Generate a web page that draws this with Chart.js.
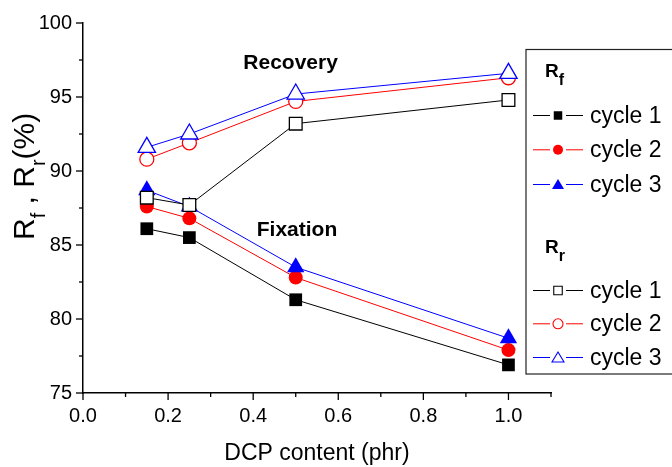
<!DOCTYPE html>
<html>
<head>
<meta charset="utf-8">
<script src="https://cdn.jsdelivr.net/npm/chart.js@4.4.0/dist/chart.umd.min.js"></script>
<style>
  body { margin: 0; background: #fff; }
  #wrap { width: 672px; height: 467px; overflow: hidden; }
</style>
</head>
<body>
<div id="wrap"><canvas id="myChart" width="672" height="467"></canvas></div>
<script>
// data
var dcp = [0.15, 0.25, 0.5, 1.0];
var rfCycle1 = [86.1, 85.5, 81.3, 76.9];
var rfCycle2 = [87.6, 86.8, 82.8, 77.9];
var rfCycle3 = [88.7, 87.6, 83.5, 78.7];
var rrCycle1 = [88.2, 87.7, 93.2, 94.8];
var rrCycle2 = [90.8, 91.9, 94.7, 96.3];
var rrCycle3 = [91.6, 92.5, 95.2, 96.6];
var xRange = [0, 1.1];
var yRange = [75, 100];
var cycleNames = ["cycle 1", "cycle 2", "cycle 3"];
var cycleColors = ["#000000", "#ff0000", "#0000ff"];
var cycleShapes = ["rect", "circle", "triangle"];

var FONT = "Arial, 'Liberation Sans', sans-serif";

var toPoints = (vals) => vals.map((v, i) => ({ x: dcp[i], y: v }));

// marker radius per shape (chart.js sizes)
var radiusFor = { rect: 9, circle: 7, triangle: 10 };

var makeSet = (label, vals, idx, filled, order) => ({
  label: label,
  data: toPoints(vals),
  borderColor: cycleColors[idx],
  borderWidth: 1,
  pointStyle: cycleShapes[idx],
  pointRadius: radiusFor[cycleShapes[idx]],
  pointBorderWidth: filled ? 0 : 1.3,
  pointBorderColor: cycleColors[idx],
  pointBackgroundColor: filled ? cycleColors[idx] : "#ffffff",
  fill: false,
  tension: 0,
  order: order
});

var isMajorX = v => Math.round(v * 10) % 2 === 0;
var isMajorY = v => Math.round(v * 10) % 50 === 0;

// legend marker
var drawMarker = (ctx, shape, x, y, color, filled, s) => {
  ctx.beginPath();
  if (shape === "rect") {
    ctx.rect(x - s / 2, y - s / 2, s, s);
  } else if (shape === "circle") {
    ctx.arc(x, y, s / 2, 0, Math.PI * 2);
  } else {
    var h = s * 0.75;
    ctx.moveTo(x, y - h / 2 - 1);
    ctx.lineTo(x + s / 2, y + h / 2);
    ctx.lineTo(x - s / 2, y + h / 2);
    ctx.closePath();
  }
  if (filled) {
    ctx.fillStyle = color;
    ctx.fill();
  } else {
    ctx.fillStyle = "#fff";
    ctx.fill();
    ctx.lineWidth = 1.1;
    ctx.strokeStyle = color;
    ctx.stroke();
  }
};

var extras = {
  id: "extras",
  afterDraw: function(chart) {
    var ctx = chart.ctx;
    var xs = chart.scales.x, ys = chart.scales.y;
    ctx.save();

    // tick marks, major and minor, pointing out
    ctx.strokeStyle = "#000";
    ctx.lineWidth = 1.3;
    xs.ticks.forEach(t => {
      var px = xs.getPixelForValue(t.value);
      var len = isMajorX(t.value) ? 7 : 4;
      ctx.beginPath();
      ctx.moveTo(px, ys.bottom);
      ctx.lineTo(px, ys.bottom + len);
      ctx.stroke();
    });
    ys.ticks.forEach(t => {
      var py = ys.getPixelForValue(t.value);
      var len = isMajorY(t.value) ? 7 : 4;
      ctx.beginPath();
      ctx.moveTo(xs.left, py);
      ctx.lineTo(xs.left - len, py);
      ctx.stroke();
    });

    // annotations
    ctx.fillStyle = "#000";
    ctx.font = "bold 21px " + FONT;
    ctx.textAlign = "center";
    ctx.textBaseline = "alphabetic";
    ctx.fillText("Recovery", xs.getPixelForValue(0.488), ys.getPixelForValue(96.9));
    ctx.fillText("Fixation", xs.getPixelForValue(0.503), ys.getPixelForValue(85.6));

    // y axis title with subscripts, rotated
    ctx.save();
    ctx.translate(34, 240);
    ctx.rotate(-Math.PI / 2);
    ctx.textAlign = "left";
    var pos = 0;
    var parts = [["R", 0], ["f", 1], [" , ", 0], ["R", 0], ["r", 1], ["(%)", 0]];
    parts.forEach(p => {
      ctx.font = (p[1] ? "20px " : "30px ") + FONT;
      ctx.fillText(p[0], pos, p[1] ? 11 : 0);
      pos += ctx.measureText(p[0]).width;
    });
    ctx.restore();

    // legend box
    ctx.strokeStyle = "#222";
    ctx.lineWidth = 1.2;
    ctx.strokeRect(526, 49.5, 200, 324.5);

    var heads = [["f", 76.7, [115, 149.3, 184], true], ["r", 253.3, [290, 323.3, 357]], false];
    var groups = [
      { sub: "f", base: 76.7, rows: [115, 149.3, 184], filled: true },
      { sub: "r", base: 253.3, rows: [290, 323.3, 357], filled: false }
    ];
    groups.forEach(g => {
      ctx.fillStyle = "#000";
      ctx.textAlign = "left";
      ctx.font = "bold 19px " + FONT;
      ctx.fillText("R", 545, g.base);
      var w = ctx.measureText("R").width;
      ctx.font = "bold 16px " + FONT;
      ctx.fillText(g.sub, 545 + w, g.base + 8);
      g.rows.forEach((ry, i) => {
        ctx.strokeStyle = cycleColors[i];
        ctx.lineWidth = 1;
        ctx.beginPath();
        ctx.moveTo(533, ry + 0.5);
        ctx.lineTo(550, ry + 0.5);
        ctx.moveTo(566, ry + 0.5);
        ctx.lineTo(583, ry + 0.5);
        ctx.stroke();
        var size = cycleShapes[i] === "rect" ? 8.5 : cycleShapes[i] === "circle" ? 10 : 12;
        drawMarker(ctx, cycleShapes[i], 558, ry + 0.5, cycleColors[i], g.filled, size);
        ctx.fillStyle = "#000";
        ctx.font = "23px " + FONT;
        ctx.fillText(cycleNames[i], 590, ry + 7.5);
      });
    });
    ctx.restore();
  }
};

var ctx = document.getElementById("myChart");
var myChart = new Chart(ctx, {
  type: "line",
  data: {
    datasets: [
      makeSet("Rf cycle 1", rfCycle1, 0, true, 6),
      makeSet("Rf cycle 2", rfCycle2, 1, true, 5),
      makeSet("Rf cycle 3", rfCycle3, 2, true, 4),
      makeSet("Rr cycle 1", rrCycle1, 0, false, 3),
      makeSet("Rr cycle 2", rrCycle2, 1, false, 2),
      makeSet("Rr cycle 3", rrCycle3, 2, false, 1)
    ]
  },
  options: {
    responsive: false,
    animation: false,
    layout: { padding: { left: 0, top: 23, right: 121, bottom: 0 } },
    plugins: {
      legend: { display: false },
      tooltip: { enabled: false }
    },
    scales: {
      x: {
        type: "linear",
        min: xRange[0],
        max: xRange[1],
        grid: { display: false, drawTicks: false },
        border: { display: true, color: "#000", width: 1.5 },
        ticks: {
          stepSize: 0.1,
          autoSkip: false,
          maxRotation: 0,
          padding: 11,
          color: "#000",
          font: { family: FONT, size: 20 },
          callback: v => (isMajorX(v) ? v.toFixed(1) : "")
        },
        title: {
          display: true,
          text: "DCP content (phr)",
          color: "#000",
          font: { family: FONT, size: 23 },
          padding: { top: 4, bottom: 0 }
        },
        afterFit: s => { s.height = 74; }
      },
      y: {
        min: yRange[0],
        max: yRange[1],
        grid: { display: false, drawTicks: false },
        border: { display: true, color: "#000", width: 1.5 },
        ticks: {
          stepSize: 2.5,
          autoSkip: false,
          padding: 11,
          color: "#000",
          font: { family: FONT, size: 20 },
          callback: v => (isMajorY(v) ? String(v) : "")
        },
        afterFit: s => { s.width = 83; }
      }
    }
  },
  plugins: [extras]
});
</script>
</body>
</html>
